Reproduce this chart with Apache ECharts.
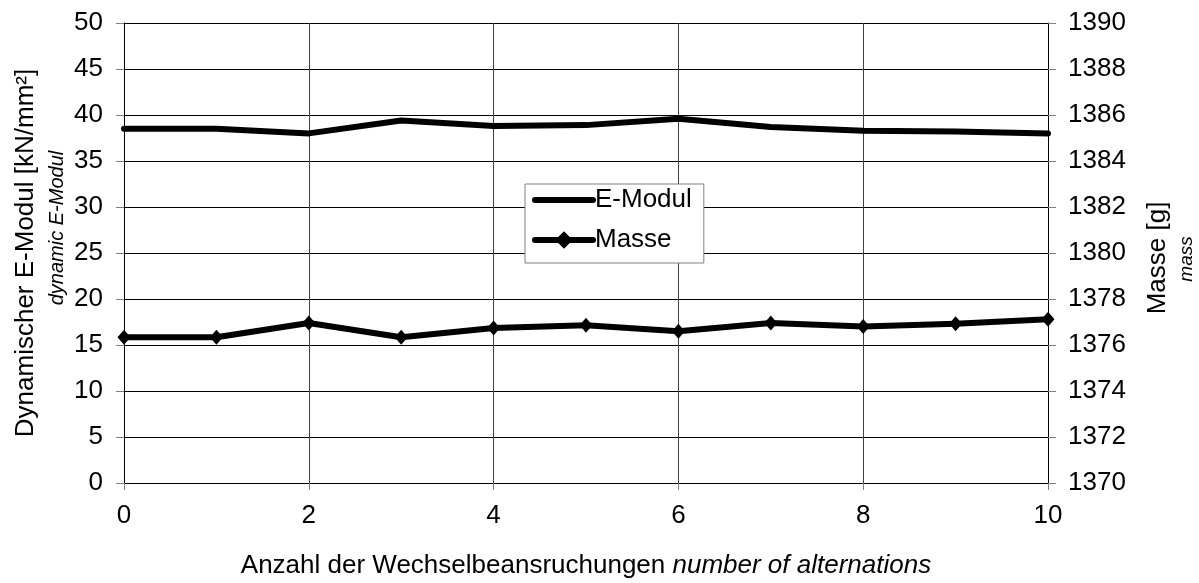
<!DOCTYPE html>
<html>
<head>
<meta charset="utf-8">
<script src="https://cdn.jsdelivr.net/npm/echarts@6/dist/echarts.min.js"></script>
<style>
  html, body { margin: 0; padding: 0; background: #fff; }
  #chart { width: 1199px; height: 583px; }
</style>
</head>
<body>
<div id="chart"></div>
<script>
(function () {
var myChart = echarts.init(document.getElementById('chart'));

var cycles = [0, 1, 2, 3, 4, 5, 6, 7, 8, 9, 10];
var eModul = [38.5, 38.5, 38.0, 39.4, 38.8, 38.9, 39.6, 38.7, 38.3, 38.2, 38.0];
var masse = [1376.34, 1376.34, 1376.96, 1376.34, 1376.74, 1376.86, 1376.6, 1376.96, 1376.8, 1376.92, 1377.12];

var font = 'Arial, "Liberation Sans", sans-serif';
var ink = '#000';

function pairs(xs, ys) {
    var out = [];
    for (var i = 0; i < xs.length; i++) out.push([xs[i], ys[i]]);
    return out;
}

var option = {
    backgroundColor: '#fff',
    animation: false,
    textStyle: { fontFamily: font, color: ink },
    grid: {
        left: 124,
        right: 151,
        top: 23,
        bottom: 100,
        containLabel: false
    },
    legend: {
        data: [
            { name: 'E-Modul', itemStyle: { opacity: 0 } },
            { name: 'Masse' }
        ],
        orient: 'vertical',
        left: 525,
        top: 184,
        padding: [3, 12, 10, 7],
        itemGap: 14,
        itemWidth: 58,
        itemHeight: 22,
        backgroundColor: '#fff',
        borderColor: '#808080',
        borderWidth: 1,
        lineStyle: { width: 6, cap: 'round', color: ink },
        textStyle: { fontSize: 26, color: ink, fontFamily: font, padding: [0, 0, 0, -3] }
    },
    xAxis: {
        type: 'value',
        min: 0,
        max: 10,
        interval: 2,
        axisLine: { show: true, lineStyle: { color: ink, width: 1 } },
        axisTick: { show: true, length: 7, lineStyle: { color: '#808080' } },
        axisLabel: { fontSize: 26, color: ink, margin: 20, fontFamily: font },
        splitLine: { show: true, lineStyle: { color: '#404040', width: 1 } }
    },
    yAxis: [{
        type: 'value',
        min: 0,
        max: 50,
        interval: 5,
        axisLine: { show: true, lineStyle: { color: ink, width: 1 } },
        axisTick: { show: true, length: 8, lineStyle: { color: '#808080' } },
        axisLabel: { fontSize: 26, color: ink, margin: 21, fontFamily: font },
        splitLine: { show: true, lineStyle: { color: ink, width: 1 } }
    }, {
        type: 'value',
        min: 1370,
        max: 1390,
        interval: 2,
        position: 'right',
        axisLine: { show: true, lineStyle: { color: ink, width: 1 } },
        axisTick: { show: true, length: 8, lineStyle: { color: '#808080' } },
        axisLabel: {
            fontSize: 26, color: ink, margin: 20, fontFamily: font,
            formatter: function (v) { return String(v); }
        },
        splitLine: { show: false }
    }],
    graphic: [{
        type: 'text',
        x: 26,
        y: 253,
        rotation: Math.PI / 2,
        style: {
            text: 'Dynamischer E-Modul [kN/mm²]',
            font: '26px ' + font,
            fill: ink,
            textAlign: 'center',
            textVerticalAlign: 'middle'
        }
    }, {
        type: 'text',
        x: 57,
        y: 228,
        rotation: Math.PI / 2,
        style: {
            text: 'dynamic E-Modul',
            font: 'italic 20px ' + font,
            fill: ink,
            textAlign: 'center',
            textVerticalAlign: 'middle'
        }
    }, {
        type: 'text',
        x: 1158,
        y: 258,
        rotation: Math.PI / 2,
        style: {
            text: 'Masse [g]',
            font: '26px ' + font,
            fill: ink,
            textAlign: 'center',
            textVerticalAlign: 'middle'
        }
    }, {
        type: 'text',
        x: 1187,
        y: 259,
        rotation: Math.PI / 2,
        style: {
            text: 'mass',
            font: 'italic 19px ' + font,
            fill: ink,
            textAlign: 'center',
            textVerticalAlign: 'middle'
        }
    }, {
        type: 'text',
        x: 586,
        y: 566,
        style: {
            text: 'Anzahl der Wechselbeansruchungen {i|number of alternations}',
            rich: { i: { fontStyle: 'italic', fontSize: 26, fontFamily: font } },
            font: '26px ' + font,
            fill: ink,
            textAlign: 'center',
            textVerticalAlign: 'middle'
        }
    }],
    series: [{
        name: 'E-Modul',
        type: 'line',
        yAxisIndex: 0,
        data: pairs(cycles, eModul),
        symbol: 'none',
        lineStyle: { color: ink, width: 6, cap: 'round', join: 'round' },
        itemStyle: { color: ink }
    }, {
        name: 'Masse',
        type: 'line',
        yAxisIndex: 1,
        data: pairs(cycles, masse),
        symbol: 'diamond',
        symbolSize: [13, 15],
        lineStyle: { color: ink, width: 6, cap: 'round', join: 'round' },
        itemStyle: { color: ink }
    }]
};

myChart.setOption(option);
window.addEventListener('resize', function () {
    myChart.resize();
});
})();
</script>
</body>
</html>
